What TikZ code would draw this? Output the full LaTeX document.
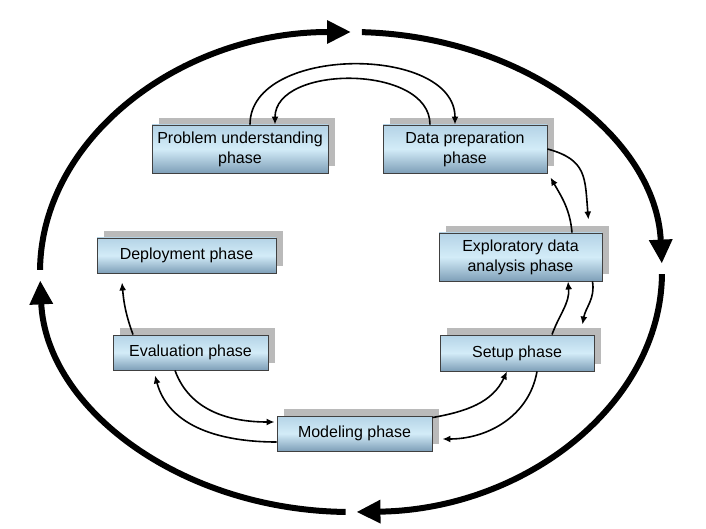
\documentclass[tikz,border=0pt]{standalone}
\usepackage{fontspec}
\setmainfont{Liberation Sans}
\usetikzlibrary{arrows.meta,shadows}

\definecolor{phasetop}{HTML}{B4D3E6}
\definecolor{phasemid}{HTML}{D3ECF8}
\definecolor{phasebot}{HTML}{7E9FB8}

\tikzset{
  phase/.style={draw=black!75, line width=0.9pt,
    top color=phasetop, bottom color=phasebot, middle color=phasemid,
    align=center, inner sep=0pt,
    font=\fontsize{16}{20}\selectfont,
    drop shadow={shadow xshift=7pt, shadow yshift=7pt, fill=black!27, opacity=1}},
  link/.style={line width=1.6pt, -{Latex[length=8pt,width=7pt]}},
  cycle/.style={line width=6pt, -{Triangle[length=24pt,width=22pt]}}
}

\begin{document}
\begin{tikzpicture}[x=1pt,y=1pt]
\useasboundingbox (0,0) rectangle (706,528);

\node[phase, minimum width=176pt, minimum height=48pt] (prob) at (240,379) {Problem understanding\\phase};
\node[phase, minimum width=164pt, minimum height=48pt] (prep) at (465,379) {Data preparation\\phase};
\node[phase, minimum width=179pt, minimum height=35pt] (deploy) at (186.5,272.5) {Deployment phase};
\node[phase, minimum width=155pt, minimum height=35pt] (eval) at (190.5,175.5) {Evaluation phase};
\node[phase, minimum width=163pt, minimum height=48pt] (eda) at (520.5,271) {Exploratory data\\analysis phase};
\node[phase, minimum width=154pt, minimum height=36pt] (setup) at (517,175) {Setup phase};
\node[phase, minimum width=155pt, minimum height=35pt] (model) at (354.5,94.5) {Modeling phase};

\draw[link] ([xshift=10pt]prob.north) to[out=90, in=90] ([xshift=-10pt]prep.north);
\draw[link] ([xshift=-35pt]prep.north) to[out=90, in=90] ([xshift=35pt]prob.north);

\draw[link] (prep.east) to[out=-15, in=95, looseness=1.3] ([shift={(-14pt,13pt)}]eda.north east);
\draw[link] ([xshift=51.5pt]eda.north) to[out=95, in=-60] ([shift={(3pt,-4pt)}]prep.south east);

\draw[link] ([xshift=-10pt]eda.south east) to[out=-80, in=80] ([shift={(-12pt,10pt)}]setup.north east);
\draw[link] ([xshift=35pt]setup.north) to[out=70, in=-85] ([xshift=47.5pt]eda.south);

\draw[link] ([yshift=-2pt]model.north east) to[out=10, in=-115] ([xshift=-10pt]setup.south);
\draw[link] ([xshift=20pt]setup.south) to[out=-100, in=0] ([shift={(10pt,-5.5pt)}]model.east);

\draw[link] ([xshift=-15.5pt]eval.south) to[out=-70, in=180] ([shift={(-2pt,11.5pt)}]model.west);
\draw[link] ([yshift=-8.5pt]model.west) to[out=180, in=-75] ([shift={(-35.5pt,-5pt)}]eval.south);

\draw[link] ([xshift=-57.5pt]eval.north) to[out=110, in=-85] ([shift={(-64.5pt,-9pt)}]deploy.south);

\draw[cycle] (351,256) ++(179.5:311pt and 240pt) arc[start angle=179.5, end angle=90, x radius=311pt, y radius=240pt];
\draw[cycle] (351,256) ++(88:311pt and 240pt) arc[start angle=88, end angle=2, x radius=311pt, y radius=240pt];
\draw[cycle] (351,256) ++(-0.5:311pt and 240pt) arc[start angle=-0.5, end angle=-89, x radius=311pt, y radius=240pt];
\draw[cycle] (351,256) ++(269:311pt and 240pt) arc[start angle=269, end angle=182, x radius=311pt, y radius=240pt];
\end{tikzpicture}
\end{document}
